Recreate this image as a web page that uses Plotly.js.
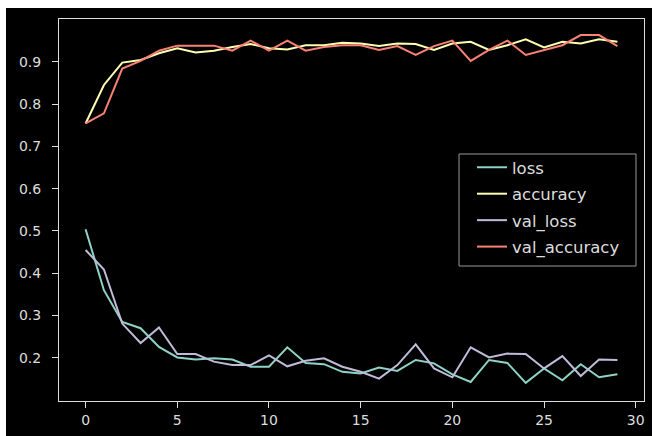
<!DOCTYPE html>
<html>
<head>
<meta charset="utf-8">
<script src="https://cdn.plot.ly/plotly-3.0.1.min.js"></script>
<style>
  html, body { margin: 0; padding: 0; background: #ffffff; width: 652px; height: 436px; overflow: hidden; }
  #chart { position: absolute; left: 6px; top: 8px; width: 646px; height: 428px; }
</style>
</head>
<body>
<div id="chart"></div>
<script>
const epochs = Array.from({length: 30}, (_, i) => i);

const loss = [0.504, 0.360, 0.285, 0.270, 0.226, 0.201, 0.196, 0.199, 0.196, 0.179,
              0.179, 0.225, 0.188, 0.185, 0.167, 0.163, 0.177, 0.169, 0.195, 0.187,
              0.161, 0.143, 0.195, 0.188, 0.141, 0.175, 0.147, 0.185, 0.154, 0.161];

const accuracy = [0.754, 0.845, 0.898, 0.904, 0.920, 0.932, 0.922, 0.926, 0.935, 0.942,
                  0.932, 0.929, 0.939, 0.939, 0.945, 0.943, 0.937, 0.943, 0.942, 0.928,
                  0.943, 0.947, 0.928, 0.939, 0.953, 0.934, 0.947, 0.943, 0.953, 0.947];

const valLoss = [0.455, 0.409, 0.281, 0.235, 0.272, 0.209, 0.209, 0.191, 0.183, 0.183,
                 0.206, 0.180, 0.193, 0.199, 0.179, 0.167, 0.151, 0.183, 0.232, 0.175,
                 0.154, 0.225, 0.201, 0.210, 0.209, 0.175, 0.204, 0.157, 0.196, 0.195];

const valAccuracy = [0.754, 0.778, 0.884, 0.902, 0.926, 0.938, 0.938, 0.938, 0.926, 0.950,
                     0.926, 0.950, 0.926, 0.935, 0.939, 0.939, 0.928, 0.937, 0.916, 0.937,
                     0.950, 0.902, 0.928, 0.950, 0.916, 0.928, 0.939, 0.963, 0.963, 0.937];

const seriesNames = ['loss', 'accuracy', 'val_loss', 'val_accuracy'];
const seriesData = [loss, accuracy, valLoss, valAccuracy];
const colors = ['#8dd3c7', '#feffb3', '#bfbbd9', '#fa8174'];

const xTicks = [0, 5, 10, 15, 20, 25, 30];
const yTicks = [0.2, 0.3, 0.4, 0.5, 0.6, 0.7, 0.8, 0.9];

const traces = seriesNames.map((name, k) => ({
  x: epochs,
  y: seriesData[k],
  name: name,
  type: 'scatter',
  mode: 'lines',
  legendgroup: name,
  line: { color: colors[k], width: 2 }
}));

const tickFont = { family: 'DejaVu Sans, sans-serif', size: 14, color: '#dddddd' };

const layout = {
  width: 646,
  height: 428,
  paper_bgcolor: '#000000',
  plot_bgcolor: '#000000',
  margin: { l: 53, r: 8, t: 11, b: 35 },
  showlegend: true,
  legend: {
    x: 0.706, xanchor: 'left',
    y: 0.657, yanchor: 'top',
    bgcolor: 'rgba(0,0,0,0)',
    borderwidth: 0,
    tracegroupgap: 2,
    font: { family: 'DejaVu Sans, sans-serif', size: 16.5, color: '#dddddd' }
  },
  shapes: [{
    type: 'rect', xref: 'paper', yref: 'paper', layer: 'above',
    x0: 0.6838, x1: 0.9863, y0: 0.3534, y1: 0.6466,
    fillcolor: 'rgba(0,0,0,0.8)',
    line: { color: '#999999', width: 1 }
  }],
  xaxis: {
    range: [-1.45, 30.45],
    tickvals: xTicks,
    ticktext: xTicks.map(String),
    ticks: 'outside',
    ticklen: 6,
    tickwidth: 1,
    tickcolor: '#dddddd',
    showgrid: false,
    zeroline: false,
    showline: true,
    mirror: true,
    linecolor: '#dddddd',
    linewidth: 1,
    tickfont: tickFont
  },
  yaxis: {
    range: [0.098, 1.001],
    tickvals: yTicks,
    ticktext: yTicks.map(v => v.toFixed(1)),
    ticks: 'outside',
    ticklen: 6,
    tickwidth: 1,
    tickcolor: '#dddddd',
    ticklabelstandoff: 8,
    showgrid: false,
    zeroline: false,
    showline: true,
    mirror: true,
    linecolor: '#dddddd',
    linewidth: 1,
    tickfont: tickFont
  }
};

Plotly.newPlot('chart', traces, layout, { displayModeBar: false, staticPlot: true });
</script>
</body>
</html>
